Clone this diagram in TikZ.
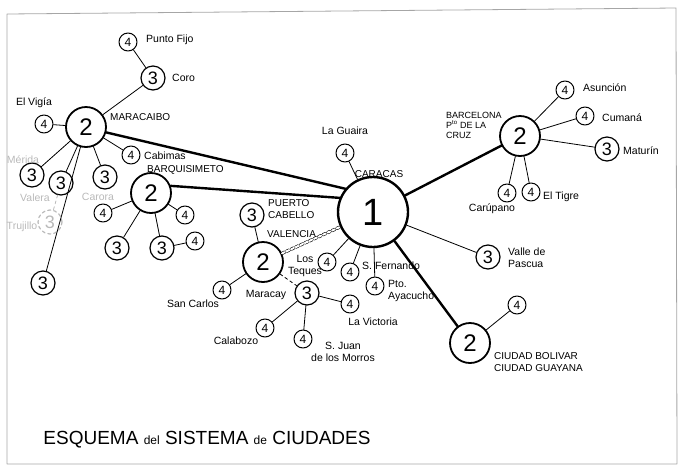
\documentclass[tikz,border=0pt]{standalone}
\usepackage{fontspec}
\setmainfont{Liberation Sans}
\begin{document}
\begin{tikzpicture}[x=1pt,y=-1pt,line cap=round,line join=round,
	every node/.style={inner sep=0pt},
	c1/.style={circle,draw,line width=2.4pt,minimum size=70pt,font=\fontsize{38}{38}\selectfont},
	c2/.style={circle,draw,line width=1.8pt,minimum size=40pt,font=\fontsize{24}{24}\selectfont},
	c3/.style={circle,draw,line width=1.2pt,minimum size=24pt,font=\fontsize{18}{18}\selectfont},
	c4/.style={circle,draw,line width=1pt,minimum size=18pt,font=\fontsize{12}{12}\selectfont},
	lbl/.style={font=\fontsize{10.5}{12}\selectfont,align=left},
	up/.style={font=\fontsize{10}{11.5}\selectfont,align=left},
	faint/.style={gray!55},
	link/.style={line width=0.8pt},
	main/.style={line width=2.4pt}]
	\useasboundingbox (0,0) rectangle (681,467);
	\draw[gray!70,line width=0.8pt] (7,14)--(676,8)--(677,464)--(7,464)--cycle;
	% ciudades
	\node[c1] (caracas) at (373,212) {1};
	\node[c2] (maracaibo) at (86,127) {2};
	\node[c2] (barquisimeto) at (151,193) {2};
	\node[c2] (valencia) at (263,262) {2};
	\node[c2] (barcelona) at (520,136) {2};
	\node[c2] (bolivar) at (470,343) {2};
	\node[c3] (coro) at (153,78) {3};
	\node[c4] (puntofijo) at (128,42) {4};
	\node[c4] (vigia) at (44,124) {4};
	\node[c4] (cabimas) at (131,155) {4};
	\node[c3] (merida) at (32,175) {3};
	\node[c3] (valera) at (61,183) {3};
	\node[c3] (zulia) at (105,177) {3};
	\node[c3,faint,dashed] (trujillo) at (50,222) {3};
	\node[c3] (tachira) at (43,283) {3};
	\node[c4] (carora) at (103,213) {4};
	\node[c4] (yaracuy) at (185,215) {4};
	\node[c3] (acarigua) at (117,248) {3};
	\node[c3] (guanare) at (162,248) {3};
	\node[c4] (guanare4) at (195,241) {4};
	\node[c4] (laguaira) at (345,153) {4};
	\node[c3] (pcabello) at (252,215) {3};
	\node[c4] (teques) at (327,262) {4};
	\node[c4] (sfernando) at (350,272) {4};
	\node[c4] (ayacucho) at (375,286) {4};
	\node[c3] (maracay) at (307,293) {3};
	\node[c4] (victoria) at (350,304) {4};
	\node[c4] (calabozo) at (265,328) {4};
	\node[c4] (sjuan) at (303,339) {4};
	\node[c4] (sancarlos) at (222,290) {4};
	\node[c4] (asuncion) at (565,90) {4};
	\node[c4] (cumana) at (585,116) {4};
	\node[c3] (maturin) at (607,149) {3};
	\node[c4] (carupano) at (507,193) {4};
	\node[c4] (tigre) at (531,192) {4};
	\node[c3] (pascua) at (488,257) {3};
	\node[c4] (guayana) at (517,305) {4};
	% nombres
	\node[lbl,anchor=west] (tpuntofijo) at (146,40) {Punto Fijo};
	\node[lbl,anchor=west] (tcoro) at (172,78) {Coro};
	\node[lbl] (tvigia) at (34,103) {El Vigía};
	\node[up,anchor=west] (tmaracaibo) at (110,117) {MARACAIBO};
	\node[lbl,anchor=west] (tcabimas) at (144,156) {Cabimas};
	\node[up,anchor=west] (tbarquisimeto) at (147,170) {BARQUISIMETO};
	\node[lbl,faint] (tmerida) at (23,160) {Mérida};
	\node[lbl,faint] (tvalera) at (35,198) {Valera};
	\node[lbl,faint] (ttrujillo) at (22,227) {Trujillo};
	\node[lbl,faint] (tcarora) at (98,197) {Carora};
	\node[lbl] (tsancarlos) at (193,304) {San Carlos};
	\node[up,anchor=west] (tpcabello) at (268,209) {PUERTO\\CABELLO};
	\node[up,anchor=west] (tvalencia) at (267,234) {VALENCIA};
	\node[lbl,align=center] (tteques) at (305,266) {Los\\Teques};
	\node[lbl] (tmaracay) at (266,295) {Maracay};
	\node[lbl] (tcalabozo) at (236,341) {Calabozo};
	\node[lbl,align=center] (tsjuan) at (343,352) {S. Juan\\de los Morros};
	\node[lbl] (tvictoria) at (373,322) {La Victoria};
	\node[lbl,anchor=west] (tsfernando) at (362,266) {S. Fernando};
	\node[lbl,anchor=west] (tayacucho) at (388,291) {Pto.\\Ayacucho};
	\node[lbl] (tlaguaira) at (345,131) {La Guaira};
	\node[up] (tcaracas) at (379,174) {CARACAS};
	\node[up,anchor=west,font=\fontsize{9}{10}\selectfont] (tbarcelona) at (446,125) {BARCELONA\\P\textsuperscript{to} DE LA\\CRUZ};
	\node[lbl,anchor=west] (tasuncion) at (583,88) {Asunción};
	\node[lbl,anchor=west] (tcumana) at (602,118) {Cumaná};
	\node[lbl,anchor=west] (tmaturin) at (623,151) {Maturín};
	\node[lbl] (tcarupano) at (492,209) {Carúpano};
	\node[lbl,anchor=west] (ttigre) at (543,197) {El Tigre};
	\node[lbl,anchor=west] (tpascua) at (508,258) {Valle de\\Pascua};
	\node[up,anchor=west] (tbolivar) at (494,362) {CIUDAD BOLIVAR\\CIUDAD GUAYANA};
	\node[font=\fontsize{19}{19}\selectfont] (titulo) at (207,440) {ESQUEMA {\large del} SISTEMA {\large de} CIUDADES};
	% enlaces
	\draw[main] (maracaibo.-15)--(caracas.140);
	\draw[main] (barquisimeto.20)--(caracas.157);
	\draw[main] (caracas)--(barcelona);
	\draw[main] (caracas)--(bolivar);
	\draw[densely dashed,line width=0.6pt,double distance=2pt] (valencia)--(caracas);
	\draw[link] (puntofijo)--(coro) (coro)--(maracaibo) (vigia)--(maracaibo) (cabimas)--(maracaibo);
	\draw[link] (maracaibo)--(merida) (maracaibo)--(valera) (maracaibo)--(zulia) (maracaibo)--(tachira);
	\draw[link,faint,dashed] (valera)--(trujillo);
	\draw[link] (barquisimeto)--(carora) (barquisimeto)--(yaracuy) (barquisimeto)--(acarigua) (barquisimeto)--(guanare) (guanare)--(guanare4);
	\draw[link] (laguaira)--(caracas) (caracas)--(teques) (caracas)--(sfernando) (caracas)--(ayacucho) (caracas)--(pascua);
	\draw[link] (pcabello)--(valencia) (valencia)--(sancarlos);
	\draw[link,dashed] (valencia)--(maracay);
	\draw[link] (maracay)--(victoria) (maracay)--(calabozo) (maracay)--(sjuan);
	\draw[link] (barcelona)--(asuncion) (barcelona)--(cumana) (barcelona)--(maturin) (barcelona)--(carupano) (barcelona)--(tigre);
	\draw[link] (bolivar)--(guayana);
\end{tikzpicture}
\end{document}
